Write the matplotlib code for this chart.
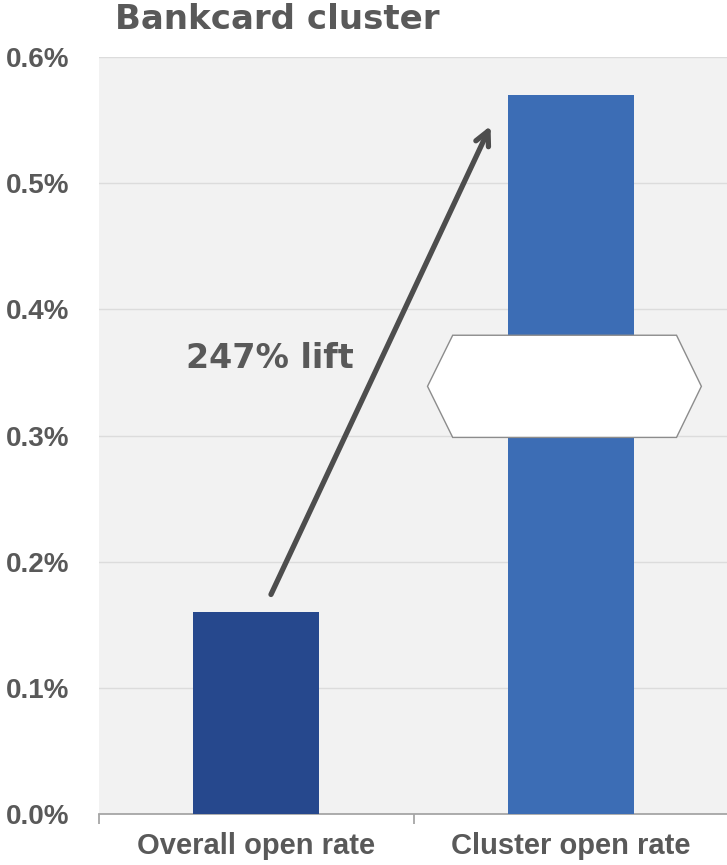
import matplotlib.pyplot as plt
from matplotlib.patches import Polygon
from matplotlib.ticker import FuncFormatter

plt.rcParams["font.family"] = ["Liberation Sans", "DejaVu Sans"]

categories = ["Overall open rate", "Cluster open rate"]
open_rate = [0.16, 0.57]          # percent
bar_colors = ["#26488D", "#3C6DB5"]
yticks = [0.0, 0.1, 0.2, 0.3, 0.4, 0.5, 0.6]
lift_label = "247% lift"
title = "Bankcard cluster"

TEXT = "#595959"
HEAVY = ["DejaVu Sans"]

fig = plt.figure(figsize=(7.27, 8.65), dpi=100)
ax = fig.add_axes([0.136, 0.059, 0.866, 0.875])
ax.set_facecolor("#F2F2F2")

x = range(len(categories))
ax.bar(x, open_rate, width=0.4, color=bar_colors, zorder=3)

ax.set_xlim(-0.5, 1.5)
ax.set_ylim(0, 0.6)
ax.set_yticks(yticks)
ax.yaxis.set_major_formatter(FuncFormatter(lambda v, _: f"{v:.1f}%"))
ax.grid(axis="y", color="#DCDCDC", lw=1.0, zorder=0)
ax.set_axisbelow(True)

for s in ("left", "top", "right"):
    ax.spines[s].set_visible(False)
ax.spines["bottom"].set_color("#A6A6A6")
ax.spines["bottom"].set_linewidth(1.3)

ax.set_xticks(list(x))
ax.set_xticklabels(categories, fontsize=21, fontweight="bold", color=TEXT)
ax.tick_params(axis="x", length=0, pad=13)
ax.set_xticks([-0.5, 0.5, 1.5], minor=True)
ax.tick_params(axis="x", which="minor", length=7, color="#A6A6A6", width=1.3)
ax.tick_params(axis="y", length=0, pad=21, labelsize=20, labelcolor=TEXT)
for lab in ax.get_yticklabels():
    lab.set_fontweight("bold")

# axis-break marker over the tall bar
brk = Polygon([(0.544, 0.339), (0.624, 0.3795), (1.335, 0.3795), (1.414, 0.339),
               (1.335, 0.2985), (0.624, 0.2985)], closed=True,
              facecolor="white", edgecolor="#8C8C8C", lw=1.0, zorder=4)
ax.add_patch(brk)

# lift arrow from the small bar toward the big one
ax.annotate("", xy=(0.748, open_rate[1] - 0.0225), xytext=(0.043, open_rate[0] + 0.012),
            arrowprops=dict(arrowstyle="->,head_length=1.0,head_width=0.5",
                            color="#4D4D4D", lw=3.8), zorder=5)
ax.text(0.043, 0.361, lift_label, ha="center", va="center", fontsize=24,
        fontweight="bold", color=TEXT, family=HEAVY, zorder=6)

fig.text(0.158, 0.977, title, ha="left", va="center", fontsize=24.5,
         fontweight="bold", color=TEXT, family=HEAVY)

fig.savefig("out.png", dpi=100)
